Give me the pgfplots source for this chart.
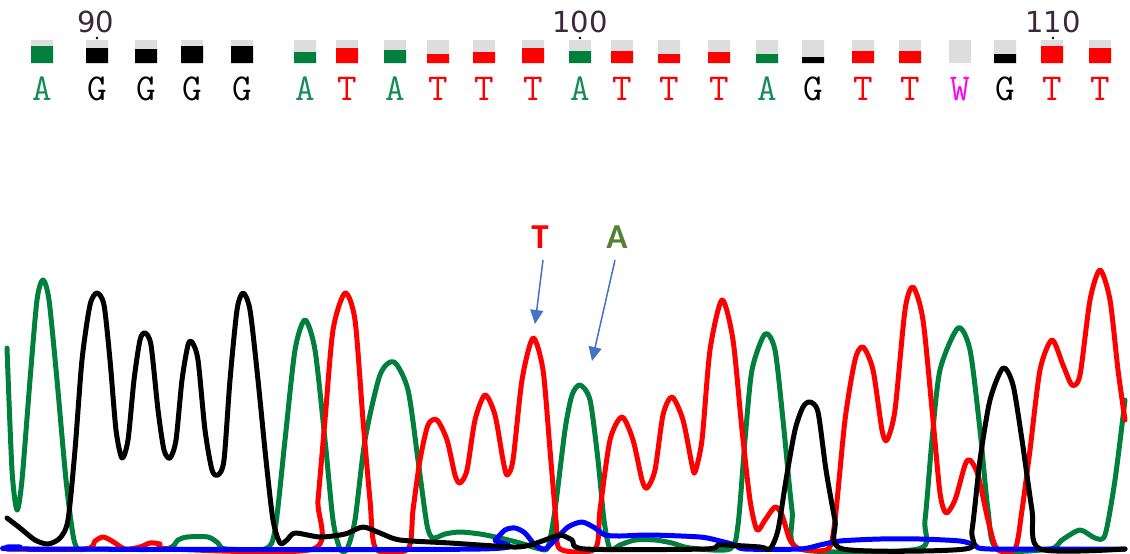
\documentclass[border=0pt]{standalone}
\usepackage{fontspec}
\usepackage{pgfplots}
\pgfplotsset{compat=1.18}
\usetikzlibrary{arrows.meta}
\newfontfamily\numfont{DejaVu Sans}
\newfontfamily\labfont{Carlito}
\definecolor{trA}{RGB}{0,128,60}
\definecolor{trT}{RGB}{255,0,0}
\definecolor{trG}{RGB}{0,0,0}
\definecolor{trC}{RGB}{0,0,255}
\definecolor{boxgray}{RGB}{221,221,221}
\definecolor{seqA}{RGB}{20,140,90}
\definecolor{seqW}{RGB}{255,0,255}
\definecolor{numcol}{RGB}{60,40,60}
\definecolor{arrowblue}{RGB}{68,114,196}
\definecolor{labA}{RGB}{84,130,53}
\begin{document}
\begin{tikzpicture}
\useasboundingbox (0,0) rectangle (1130pt,554pt);
\begin{axis}[
  scale only axis, width=1130pt, height=554pt,
  xmin=0, xmax=1130, ymin=0, ymax=554, y dir=reverse,
  hide axis, clip=false, unbounded coords=jump,
]
% quality boxes: gray background
\addplot[forget plot, fill=boxgray, draw=none, mark=none] coordinates {
(31,40)(53,40)(53,63)(31,63)(0,nan)
(86,40)(108,40)(108,63)(86,63)(0,nan)
(135,40)(157,40)(157,63)(135,63)(0,nan)
(181,40)(203,40)(203,63)(181,63)(0,nan)
(231,40)(253,40)(253,63)(231,63)(0,nan)
(294,40)(316,40)(316,63)(294,63)(0,nan)
(336,40)(358,40)(358,63)(336,63)(0,nan)
(384,40)(406,40)(406,63)(384,63)(0,nan)
(427,40)(449,40)(449,63)(427,63)(0,nan)
(473,40)(495,40)(495,63)(473,63)(0,nan)
(522,40)(544,40)(544,63)(522,63)(0,nan)
(569,40)(591,40)(591,63)(569,63)(0,nan)
(611,40)(633,40)(633,63)(611,63)(0,nan)
(658,40)(680,40)(680,63)(658,63)(0,nan)
(708,40)(730,40)(730,63)(708,63)(0,nan)
(756,40)(778,40)(778,63)(756,63)(0,nan)
(802,40)(824,40)(824,63)(802,63)(0,nan)
(852,40)(874,40)(874,63)(852,63)(0,nan)
(899,40)(921,40)(921,63)(899,63)(0,nan)
(949,40)(971,40)(971,63)(949,63)(0,nan)
(994,40)(1016,40)(1016,63)(994,63)(0,nan)
(1041,40)(1063,40)(1063,63)(1041,63)(0,nan)
(1089,40)(1111,40)(1111,63)(1089,63)
};
% quality boxes: A (green)
\addplot[forget plot, fill=trA, draw=none, mark=none] coordinates {
(31,46)(53,46)(53,63)(31,63)(0,nan)
(294,52)(316,52)(316,63)(294,63)(0,nan)
(384,50)(406,50)(406,63)(384,63)(0,nan)
(569,51)(591,51)(591,63)(569,63)(0,nan)
(756,54)(778,54)(778,63)(756,63)
};
% quality boxes: G (black)
\addplot[forget plot, fill=trG, draw=none, mark=none] coordinates {
(86,48)(108,48)(108,63)(86,63)(0,nan)
(135,49)(157,49)(157,63)(135,63)(0,nan)
(181,46)(203,46)(203,63)(181,63)(0,nan)
(231,46)(253,46)(253,63)(231,63)(0,nan)
(802,57)(824,57)(824,63)(802,63)(0,nan)
(994,54)(1016,54)(1016,63)(994,63)
};
% quality boxes: T (red)
\addplot[forget plot, fill=trT, draw=none, mark=none] coordinates {
(336,48)(358,48)(358,63)(336,63)(0,nan)
(427,54)(449,54)(449,63)(427,63)(0,nan)
(473,52)(495,52)(495,63)(473,63)(0,nan)
(522,48)(544,48)(544,63)(522,63)(0,nan)
(611,51)(633,51)(633,63)(611,63)(0,nan)
(658,54)(680,54)(680,63)(658,63)(0,nan)
(708,52)(730,52)(730,63)(708,63)(0,nan)
(852,51)(874,51)(874,63)(852,63)(0,nan)
(899,51)(921,51)(921,63)(899,63)(0,nan)
(1041,46)(1063,46)(1063,63)(1041,63)(0,nan)
(1089,48)(1111,48)(1111,63)(1089,63)
};
% position dots
\addplot[forget plot, only marks, mark=*, mark size=1.1pt, color=black] coordinates {(97,38) (580,38) (1053,38)};
% position numbers
\node[anchor=base, font=\numfont\fontsize{29}{29}\selectfont, text=numcol] at (axis cs:96,32) {90};
\node[anchor=base, font=\numfont\fontsize{29}{29}\selectfont, text=numcol] at (axis cs:580,32) {100};
\node[anchor=base, font=\numfont\fontsize{29}{29}\selectfont, text=numcol] at (axis cs:1053,32) {110};
% base calls
\tikzset{seq/.style={anchor=base, font=\ttfamily\addfontfeatures{FakeBold=1.6}\fontsize{38}{38}\selectfont, inner sep=0pt}}
\node[seq, text=seqA] at (axis cs:42,100) {A};
\node[seq, text=black] at (axis cs:97,100) {G};
\node[seq, text=black] at (axis cs:146,100) {G};
\node[seq, text=black] at (axis cs:192,100) {G};
\node[seq, text=black] at (axis cs:242,100) {G};
\node[seq, text=seqA] at (axis cs:305,100) {A};
\node[seq, text=trT] at (axis cs:347,100) {T};
\node[seq, text=seqA] at (axis cs:395,100) {A};
\node[seq, text=trT] at (axis cs:438,100) {T};
\node[seq, text=trT] at (axis cs:484,100) {T};
\node[seq, text=trT] at (axis cs:533,100) {T};
\node[seq, text=seqA] at (axis cs:580,100) {A};
\node[seq, text=trT] at (axis cs:622,100) {T};
\node[seq, text=trT] at (axis cs:669,100) {T};
\node[seq, text=trT] at (axis cs:719,100) {T};
\node[seq, text=seqA] at (axis cs:767,100) {A};
\node[seq, text=black] at (axis cs:813,100) {G};
\node[seq, text=trT] at (axis cs:863,100) {T};
\node[seq, text=trT] at (axis cs:910,100) {T};
\node[seq, text=seqW] at (axis cs:960,100) {W};
\node[seq, text=black] at (axis cs:1005,100) {G};
\node[seq, text=trT] at (axis cs:1052,100) {T};
\node[seq, text=trT] at (axis cs:1100,100) {T};
% traces
\pgfplotsset{trace/.style={smooth, tension=0.45, line width=5pt, line join=round, line cap=round, mark=none}}
% A trace
\addplot[trace, color=trA] coordinates {
(7,348) (12,470) (17,510) (22,480) (30,380) (37,300) (43,280) (49,300) (57,380) (66,480) (73,535) (78,549)
(90,549) (165,549) (178,540) (187,537) (208,537) (218,543) (225,549) (265,549) (275,530) (285,440) (295,350)
(305,320) (315,350) (325,440) (333,520) (340,549) (347,549) (355,520) (365,440) (380,375) (394,362) (408,390)
(418,460) (427,525) (433,538) (445,534) (460,532) (480,534) (500,538) (520,543) (540,549) (548,547) (555,510)
(565,430) (572,395) (580,385) (590,400) (598,460) (604,520) (610,549) (620,545) (635,540) (655,540) (672,543)
(690,548) (730,549) (738,525) (745,440) (752,370) (765,334) (775,350) (783,420) (792,510) (800,549) (918,549)
(925,520) (932,440) (940,370) (958,328) (970,350) (980,430) (988,510) (997,549) (1050,549) (1062,540)
(1080,530) (1095,538) (1105,535) (1115,480) (1125,400)
};
% T trace
\addplot[trace, color=trT] coordinates {
(7,549) (85,549) (95,541) (103,537) (112,541) (125,549) (140,547) (150,543) (160,544) (170,549) (313,549)
(318,500) (325,420) (333,330) (345,293) (355,320) (363,420) (370,500) (376,549) (408,549) (413,510) (420,460)
(428,425) (437,420) (447,440) (455,475) (460,483) (467,470) (475,420) (485,395) (495,415) (503,460) (507,475)
(513,460) (522,380) (533,338) (543,370) (550,450) (556,520) (560,549) (595,549) (600,510) (610,440) (622,417)
(633,440) (642,480) (647,488) (655,470) (663,415) (672,397) (683,420) (692,465) (695,472) (702,440) (710,350)
(722,300) (733,340) (742,430) (750,500) (757,530) (765,520) (775,507) (782,515) (790,540) (800,549) (828,549)
(835,520) (845,420) (855,360) (863,347) (873,370) (882,430) (887,440) (895,410) (905,310) (913,287) (923,320)
(933,420) (940,493) (946,513) (955,500) (965,465) (970,460) (978,475) (988,520) (997,549) (1015,549)
(1022,510) (1030,450) (1040,370) (1052,340) (1063,365) (1072,385) (1080,375) (1090,300) (1100,270)
(1110,300) (1118,370) (1125,420)
};
% C trace
\addplot[trace, color=trC] coordinates {
(7,547) (20,547) (30,549) (480,549) (495,540) (505,530) (515,528) (525,533) (535,545) (545,549) (555,540)
(568,527) (582,522) (595,528) (605,535) (620,536) (650,535) (700,537) (720,541) (735,545) (745,549) (800,549)
(820,545) (840,541) (880,539) (920,539) (960,541) (975,545) (990,549) (1125,549)
};
% G trace
\addplot[trace, color=trG] coordinates {
(7,518) (20,528) (35,540) (48,544) (60,538) (68,520) (75,450) (82,360) (90,305) (97,293) (104,305) (110,360)
(116,430) (122,458) (128,440) (134,380) (140,340) (145,333) (151,345) (158,410) (164,450) (170,458) (176,440)
(182,380) (188,345) (192,342) (198,360) (205,430) (212,470) (218,475) (224,460) (230,380) (237,310) (243,293)
(250,310) (258,380) (266,460) (273,520) (280,543) (287,540) (295,533) (320,537) (345,534) (363,527) (380,533)
(400,540) (450,543) (513,547) (530,545) (545,540) (560,535) (572,540) (585,549) (705,549) (720,545) (760,547)
(770,549) (778,530) (786,480) (795,430) (803,407) (810,402) (818,412) (826,470) (835,520) (843,549) (965,549)
(972,530) (980,460) (990,400) (1003,368) (1013,385) (1022,440) (1032,510) (1040,549) (1125,549)
};
% annotations
\draw[arrowblue, line width=1.5pt, -{Triangle[length=14pt,width=13pt]}] (axis cs:543,260) -- (axis cs:535,324);
\draw[arrowblue, line width=1.5pt, -{Triangle[length=14pt,width=13pt]}] (axis cs:615,260) -- (axis cs:592,361);
\node[anchor=base, font=\labfont\bfseries\fontsize{35}{35}\selectfont, text=trT] at (axis cs:540,248) {T};
\node[anchor=base, font=\labfont\bfseries\fontsize{35}{35}\selectfont, text=labA] at (axis cs:617,248) {A};
\end{axis}
\end{tikzpicture}
\end{document}
